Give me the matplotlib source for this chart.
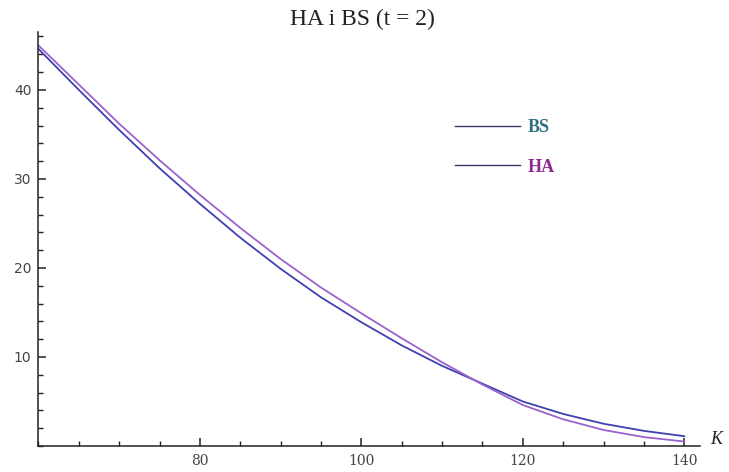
import matplotlib
matplotlib.use("Agg")
import matplotlib.pyplot as plt
from matplotlib.lines import Line2D
from matplotlib.ticker import MultipleLocator

K = [60, 65, 70, 75, 80, 85, 90, 95, 100, 105, 110, 115, 120, 125, 130, 135, 140]
BS = [44.6, 40.0, 35.5, 31.2, 27.2, 23.4, 19.9, 16.7, 13.9, 11.3, 9.0, 7.0, 5.0, 3.6, 2.5, 1.7, 1.1]
HA = [45.0, 40.6, 36.2, 32.1, 28.2, 24.5, 21.0, 17.8, 14.9, 12.1, 9.4, 6.9, 4.6, 3.0, 1.8, 1.0, 0.5]
x_ticks = [80, 100, 120, 140]
y_ticks = [10, 20, 30, 40]
title = "HA i BS (t = 2)"
series_names = ["BS", "HA"]

line_colors = ["#4040b0", "#9a62cc"]
text_colors = ["#2d6f80", "#8c2b8c"]

fig = plt.figure(figsize=(7.29, 4.72), dpi=100)
ax = fig.add_axes([0.0528, 0.0551, 0.908, 0.877])

ax.plot(K, BS, color=line_colors[0], lw=1.3)
ax.plot(K, HA, color=line_colors[1], lw=1.3)

ax.set_xlim(60, 142)
ax.set_ylim(0, 46.5)
for s in ["top", "right"]:
    ax.spines[s].set_visible(False)
for s in ["left", "bottom"]:
    ax.spines[s].set_linewidth(1.1)
    ax.spines[s].set_color("#222222")

ax.set_xticks(x_ticks)
ax.set_yticks(y_ticks)
ax.xaxis.set_minor_locator(MultipleLocator(5))
ax.yaxis.set_minor_locator(MultipleLocator(2))
ax.tick_params(which="major", direction="in", length=6, width=1.1, color="#222222",
               labelsize=10, labelcolor="#444444")
ax.tick_params(axis="x", which="major", pad=6)
ax.tick_params(axis="y", which="major", pad=5)
ax.tick_params(which="minor", direction="in", length=3.5, width=1.0, color="#222222")
for lbl in ax.get_xticklabels():
    lbl.set_fontfamily("DejaVu Serif")
for lbl in ax.get_yticklabels():
    lbl.set_fontfamily("DejaVu Sans")

ax.text(1.015, 0.015, "K", transform=ax.transAxes, fontsize=13, fontstyle="italic",
        family="Liberation Serif", ha="left", va="center", color="#222222")

fig.text(0.497, 0.958, title, ha="center", va="center", fontsize=17,
         family="Liberation Serif", color="#222222")

handles = [Line2D([], [], color="#333366", lw=1.0), Line2D([], [], color="#333366", lw=1.0)]
leg = ax.legend(handles, series_names, loc="upper left", bbox_to_anchor=(0.629, 0.79),
                frameon=False, handlelength=3.6, handletextpad=0.45, labelspacing=1.25,
                borderpad=0, borderaxespad=0,
                prop={"family": "Liberation Serif", "weight": "bold", "size": 13})
for t, c in zip(leg.get_texts(), text_colors):
    t.set_color(c)

fig.savefig("out.png", dpi=100)
